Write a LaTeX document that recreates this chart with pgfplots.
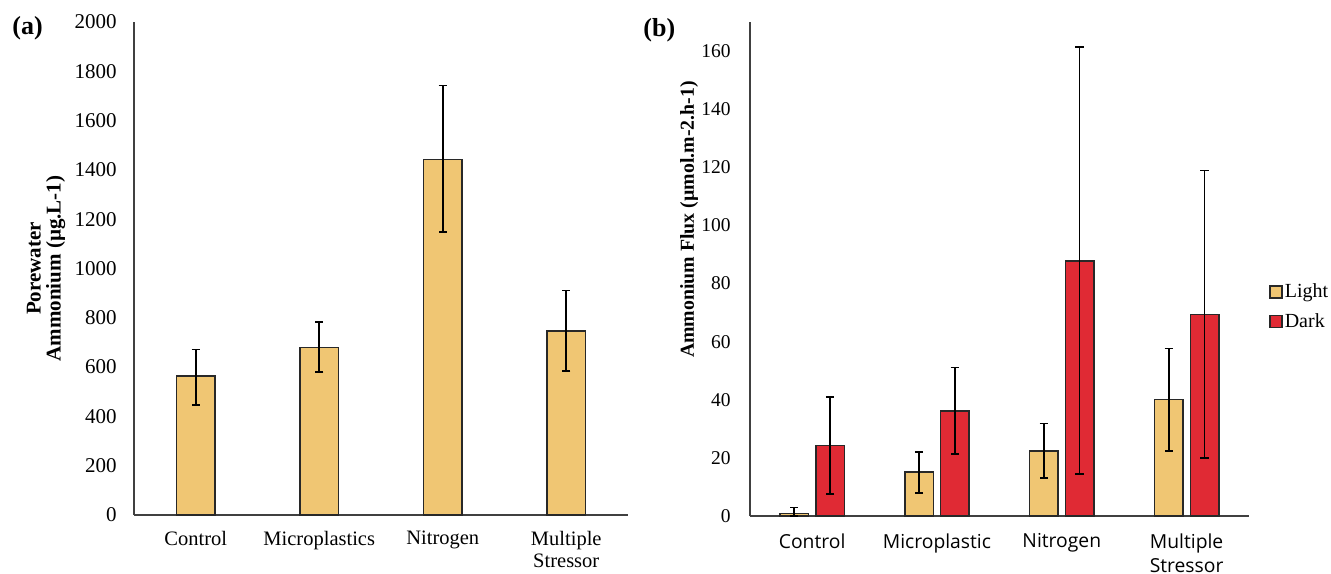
\documentclass[border=0pt]{standalone}
\usepackage{fontspec}
\setmainfont{Liberation Serif}
\newfontfamily\sansf{Open Sans}
\usepackage{pgfplots}
\pgfplotsset{compat=1.18}
\usepackage{pgfplotstable}
\definecolor{lightc}{RGB}{240,198,115}
\definecolor{darkc}{RGB}{224,42,52}
\definecolor{edgec}{RGB}{40,40,40}
\definecolor{axc}{RGB}{64,64,64}

\pgfplotstableread{
x y ep em
0 563 109 116
1 679 104 100
2 1443 299 296
3 746 164 162
}\tabA
\pgfplotstableread{
x y ep em
0 0.9 2.0 0.9
1 15.1 7.0 7.2
2 22.3 9.6 9.2
3 40.1 17.5 17.7
}\tabBL
\pgfplotstableread{
x y ep em
0 24.2 16.7 16.6
1 36.1 15.0 14.8
2 87.7 73.6 73.3
3 69.3 49.6 49.4
}\tabBD

\pgfplotsset{
  common/.style={
    scale only axis,
    anchor=south west,
    xmin=-0.5, xmax=3.5, ymin=0,
    axis x line*=bottom, axis y line*=left,
    axis line style={axc, line width=0.85bp},
    major tick length=0pt,
    xtick={0,1,2,3},
    /pgf/number format/1000 sep={},
    /pgf/number format/assume math mode=true,
    tick label style={inner sep=0pt, black},
    xticklabel style={anchor=north, align=center},
    yticklabel style={anchor=east},
    ylabel style={align=center, anchor=center, rotate=0},
    clip=false,
  },
  ebar/.style={
    error bars/.cd, y dir=both, y explicit,
    error bar style={black, line width=0.8bp},
    error mark options={black, rotate=90, mark size=2.1bp, line width=0.8bp},
  },
}

\begin{document}
\begin{tikzpicture}
\useasboundingbox (0,0) rectangle (665.5bp,287bp);

% ---- panel (a)
\begin{axis}[common,
  at={(67bp,29.5bp)},
  width=247bp, height=246.5bp,
  ymax=2000, ytick={0,200,...,2000},
  xticklabels={Control, Microplastics, Nitrogen, {Multiple\\Stressor}},
  xticklabel style={font=\fontsize{10.25bp}{11bp}\selectfont, yshift=-8bp},
  yticklabel style={font=\fontsize{10.5bp}{12bp}\selectfont, xshift=-8.5bp},
  ylabel={Porewater\\Ammonium (µg.L-1)},
  ylabel style={font=\bfseries\fontsize{10.5bp}{10bp}\selectfont,
    at={(axis description cs:-0.178,0.5)}},
]
\addplot[ybar, bar width=19.25bp, fill=lightc, draw=edgec, line width=0.75bp, ebar]
  table[x=x, y=y, y error plus=ep, y error minus=em]{\tabA};
\end{axis}

% ---- panel (b)
\begin{axis}[common,
  at={(374.85bp,29bp)},
  width=249.65bp, height=247bp,
  ymax=170, ytick={0,20,...,160},
  ybar=3.65bp, bar width=14.25bp,
  xticklabels={Control, Microplastic, Nitrogen, {Multiple\\Stressor}},
  xticklabel style={font=\sansf\fontsize{9.65bp}{12bp}\selectfont, yshift=-8.5bp},
  yticklabel style={font=\fontsize{9.75bp}{12bp}\selectfont, xshift=-9.35bp},
  ylabel={Ammonium Flux (µmol.m-2.h-1)},
  ylabel style={font=\bfseries\fontsize{9.9bp}{12bp}\selectfont,
    at={(axis description cs:-0.1216,0.6)}},
  legend image code/.code={\draw[#1, line width=0.7bp] (0bp,-3bp) rectangle (6bp,3bp);},
  legend style={at={(axis description cs:1.04,0.4235)}, anchor=west,
    draw=none, fill=none, inner sep=0pt,
    font=\fontsize{10bp}{12bp}\selectfont,
    nodes={inner sep=1bp}, row sep=4.5bp},
  legend cell align=left,
]
\addplot[fill=lightc, draw=edgec, line width=0.75bp, ebar]
  table[x=x, y=y, y error plus=ep, y error minus=em]{\tabBL};
\addplot[fill=darkc, draw=edgec, line width=0.75bp, ebar]
  table[x=x, y=y, y error plus=ep, y error minus=em]{\tabBD};
\legend{Light, Dark}
\end{axis}

\node[font=\bfseries\fontsize{13bp}{15bp}\selectfont, anchor=west, inner sep=0pt] at (6bp,273bp) {(a)};
\node[font=\bfseries\fontsize{13bp}{15bp}\selectfont, anchor=west, inner sep=0pt] at (321.5bp,272bp) {(b)};
\end{tikzpicture}
\end{document}
